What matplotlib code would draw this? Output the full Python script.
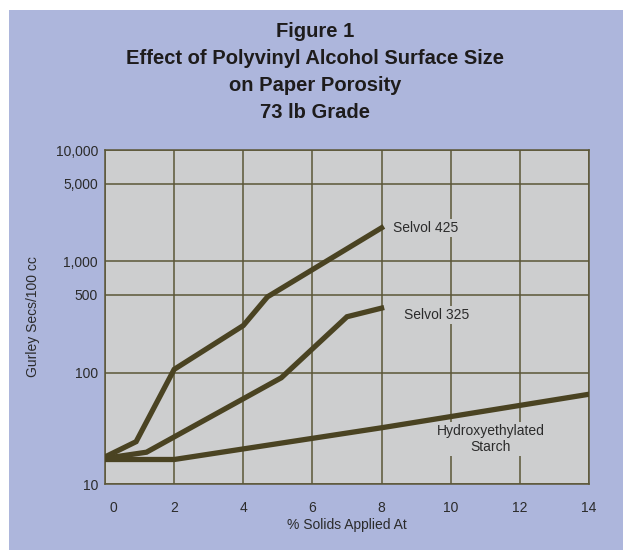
import matplotlib
matplotlib.use("Agg")
import matplotlib.pyplot as plt
import matplotlib.transforms as mtransforms
from matplotlib.patches import Rectangle

plt.rcParams['font.family'] = ['Liberation Sans', 'DejaVu Sans']

# values
selvol425_x = [0, 0.9, 2, 4, 4.7, 8]
selvol425_y = [17.5, 24, 107, 265, 480, 2000]
selvol325_x = [0, 1.2, 5.1, 7, 8]
selvol325_y = [17, 19.3, 90, 318, 380]
starch_x = [0, 2, 8, 14]
starch_y = [16.6, 16.6, 32, 64]

xticks = [0, 2, 4, 6, 8, 10, 12, 14]
yticks = [10, 100, 500, 1000, 5000, 10000]
ytick_labels = ['10', '100', '500', '1,000', '5,000', '10,000']

title = 'Figure 1\nEffect of Polyvinyl Alcohol Surface Size\non Paper Porosity\n73 lb Grade'

BG = '#adb6dc'
PLOT_BG = '#cdcecf'
GRID = '#5b5637'
LINE = '#4a4322'
TXT = '#2b2b2b'

fig = plt.figure(figsize=(6.23, 5.50), dpi=100, facecolor='white')
fig.patches.append(Rectangle((9 / 623, 0), 1, 1 - 10 / 550, transform=fig.transFigure,
                             facecolor=BG, edgecolor='none', zorder=-10))

ax = fig.add_axes([105 / 623, 1 - 484 / 550, 484 / 623, 334 / 550])
ax.set_facecolor(PLOT_BG)
ax.set_yscale('log')
ax.set_xlim(0, 14)
ax.set_ylim(10, 10000)

ax.set_xticks(xticks)
ax.set_xticklabels([str(v) for v in xticks])
ax.set_yticks(yticks)
ax.set_yticklabels(ytick_labels)
ax.yaxis.set_minor_locator(matplotlib.ticker.NullLocator())
ax.tick_params(axis='both', length=0, labelsize=10, colors=TXT)
ax.tick_params(axis='x', pad=12)
ax.tick_params(axis='y', pad=5)
# the 0 label sits a bit right of the axis edge
lab0 = ax.get_xticklabels()[0]
lab0.set_transform(lab0.get_transform() + mtransforms.ScaledTranslation(8 / 100, 0, fig.dpi_scale_trans))

ax.grid(True, color=GRID, linewidth=1.1)
ax.set_axisbelow(True)
for s in ax.spines.values():
    s.set_color(GRID)
    s.set_linewidth(1.1)

for xs, ys in [(starch_x, starch_y), (selvol325_x, selvol325_y), (selvol425_x, selvol425_y)]:
    ax.plot(xs, ys, color=LINE, linewidth=3.8, solid_joinstyle='miter', zorder=3)

box = dict(facecolor=PLOT_BG, edgecolor='none', pad=1.5)
ax.text(8.33, 2000, 'Selvol 425', fontsize=10, color=TXT, va='center', ha='left', bbox=box)
ax.text(8.65, 330, 'Selvol 325', fontsize=10, color=TXT, va='center', ha='left', bbox=box)
ax.text(11.15, 25.5, 'Hydroxyethylated\nStarch', fontsize=10, color=TXT, va='center',
        ha='center', multialignment='center', bbox=box)

fig.text(315 / 623, 1 - 72 / 550, title, ha='center', va='center', fontsize=14.5,
         fontweight='bold', color='#1e1c1c', linespacing=1.55)
fig.text(33 / 623, 1 - 317 / 550, 'Gurley Secs/100 cc', rotation=90, ha='center',
         va='center', fontsize=10, color=TXT)
fig.text(347 / 623, 1 - 525 / 550, '% Solids Applied At', ha='center', va='center',
         fontsize=10, color=TXT)

fig.savefig('out.png', dpi=100, facecolor=fig.get_facecolor())
